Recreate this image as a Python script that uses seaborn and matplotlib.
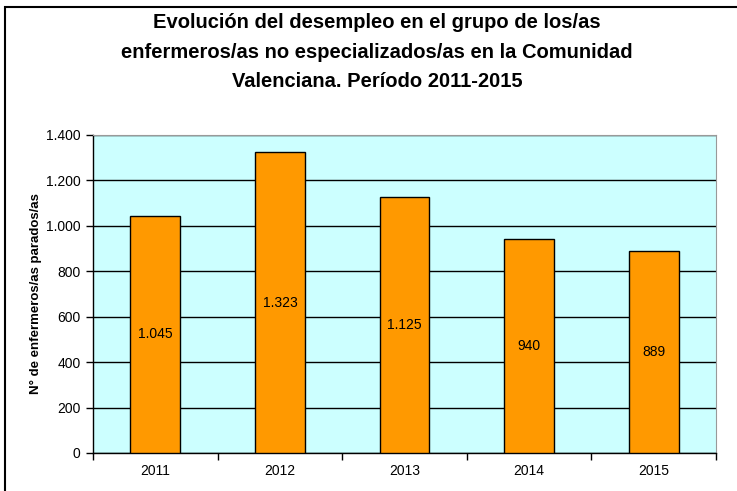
import matplotlib
matplotlib.use("Agg")
import matplotlib.pyplot as plt
from matplotlib.patches import Rectangle
import seaborn as sns
import pandas as pd

years = ["2011", "2012", "2013", "2014", "2015"]
parados = [1045, 1323, 1125, 940, 889]
etiquetas = ["1.045", "1.323", "1.125", "940", "889"]
yticks = [0, 200, 400, 600, 800, 1000, 1200, 1400]
ytick_labels = ["0", "200", "400", "600", "800", "1.000", "1.200", "1.400"]

titulo = ("Evolución del desempleo en el grupo de los/as\n"
          "enfermeros/as no especializados/as en la Comunidad\n"
          "Valenciana. Período 2011-2015")
ylabel = "N° de enfermeros/as parados/as"

plt.rcParams["font.family"] = ["Liberation Sans", "DejaVu Sans"]

df = pd.DataFrame({"year": years, "parados": parados})

fig = plt.figure(figsize=(7.37, 4.91), dpi=100)
ax = fig.add_axes([93 / 737, 1 - 453 / 491, 623 / 737, 318 / 491])
ax.set_facecolor("#CCFFFF")

sns.barplot(data=df, x="year", y="parados", color="#FF9900", width=0.4,
            edgecolor="black", linewidth=1, saturation=1, ax=ax, zorder=3)

# values in the middle of each bar
for i, (v, lab) in enumerate(zip(parados, etiquetas)):
    ax.text(i, v / 2, lab, ha="center", va="center", fontsize=10, zorder=4)

ax.set_ylim(0, 1400)
ax.set_xlim(-0.5, len(years) - 0.5)
ax.set_yticks(yticks)
ax.set_yticklabels(ytick_labels, fontsize=10)
ax.yaxis.grid(True, color="black", linewidth=1)
ax.set_axisbelow(True)
ax.tick_params(axis="y", direction="out", length=5, width=1, pad=4)

# x ticks between categories
ax.set_xticks([i - 0.5 for i in range(len(years) + 1)], minor=True)
ax.tick_params(axis="x", which="major", length=0, labelsize=10, pad=8)
ax.tick_params(axis="x", which="minor", direction="out", length=5, width=1)

ax.set_xlabel("")
ax.set_ylabel(ylabel, fontsize=9.5, fontweight="bold")
ax.yaxis.set_label_coords(-0.082, 0.5)

for s in ["top", "right"]:
    ax.spines[s].set_color("#999999")
for s in ["left", "bottom"]:
    ax.spines[s].set_color("black")
    ax.spines[s].set_linewidth(1)

fig.text(377 / 737, 1 - 52 / 491, titulo, ha="center", va="center",
         fontsize=14.5, fontweight="bold", linespacing=1.68)

# outer chart frame (cropped on right and bottom)
fig.patches.append(Rectangle((5 / 737, -0.2), 1.5, 1 - 7 / 491 + 0.2,
                             transform=fig.transFigure, fill=False,
                             edgecolor="black", linewidth=1.5))

fig.savefig("out.png", dpi=100)
